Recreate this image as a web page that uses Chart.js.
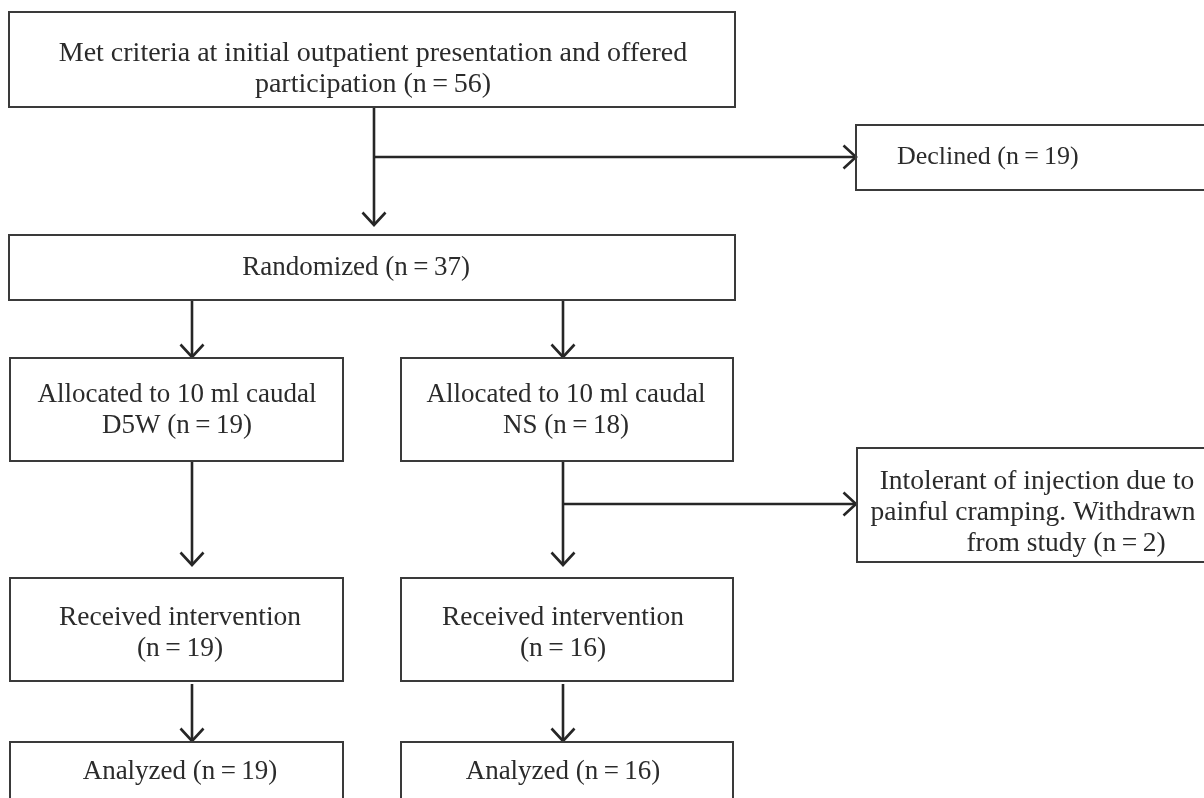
<!DOCTYPE html>
<html>
<head>
<meta charset="utf-8">
<script src="https://cdn.jsdelivr.net/npm/chart.js@4.4.1/dist/chart.umd.min.js"></script>
<style>
  html, body { margin: 0; padding: 0; background: #fff; }
  #wrap { width: 1204px; height: 798px; }
</style>
</head>
<body>
<div id="wrap"><canvas id="flow"></canvas></div>
<script>
// stages of the trial flow and how many participants were in each
const stageNames = ['screened', 'declined', 'randomized', 'allocD5W', 'allocNS', 'withdrawn', 'receivedD5W', 'receivedNS', 'analyzedD5W', 'analyzedNS'];
const stageCounts = [56, 19, 37, 19, 18, 2, 19, 16, 19, 16];
const stageText = [
    ['Met criteria at initial outpatient presentation and offered', 'participation (n\u2009=\u2009{n})'],
    ['Declined (n\u2009=\u2009{n})'],
    ['Randomized (n\u2009=\u2009{n})'],
    ['Allocated to 10 ml caudal', 'D5W (n\u2009=\u2009{n})'],
    ['Allocated to 10 ml caudal', 'NS (n\u2009=\u2009{n})'],
    ['Intolerant of injection due to', 'painful cramping. Withdrawn', 'from study (n\u2009=\u2009{n})'],
    ['Received intervention', '(n\u2009=\u2009{n})'],
    ['Received intervention', '(n\u2009=\u2009{n})'],
    ['Analyzed (n\u2009=\u2009{n})'],
    ['Analyzed (n\u2009=\u2009{n})']
];

// layout, in axis units (x 0..1204, y 0..798 top to bottom)
const boxRect = [
    [9, 12, 735, 107],
    [856, 125, 1240, 190],
    [9, 235, 735, 300],
    [10, 358, 343, 461],
    [401, 358, 733, 461],
    [857, 448, 1240, 562],
    [10, 578, 343, 681],
    [401, 578, 733, 681],
    [10, 742, 343, 840],
    [401, 742, 733, 840]
];
// line x for each box (per line if it differs), first line y, font size
const textX = [[373], [897], [356], [177], [566], [1037, 1033, 1066], [180], [563], [180], [563]];
const textY = [54, 157, 268, 395, 395, 482, 618, 618, 772, 772];
const textAlign = ['center', 'left', 'center', 'center', 'center', 'center', 'center', 'center', 'center', 'center'];
const textSize = [28, 26, 27, 27, 27, 27.5, 27.5, 27.5, 27, 27];
const lineStep = 31;

// connectors: polyline points, last point is the arrow tip
const arrowPath = [
    [[374, 107], [374, 225]],
    [[374, 157], [856, 157]],
    [[192, 300], [192, 357]],
    [[563, 300], [563, 357]],
    [[192, 461], [192, 565]],
    [[563, 461], [563, 565]],
    [[563, 504], [856, 504]],
    [[192, 684], [192, 741]],
    [[563, 684], [563, 741]]
];
const arrowDir = ['down', 'right', 'down', 'down', 'down', 'down', 'right', 'down', 'down'];

const datasets = [];

boxRect.forEach(function(r) {
    datasets.push({
        data: [{x: r[0], y: r[1]}, {x: r[2], y: r[1]}, {x: r[2], y: r[3]}, {x: r[0], y: r[3]}, {x: r[0], y: r[1]}],
        showLine: true,
        borderColor: '#3a3a3a',
        borderWidth: 2,
        borderCapStyle: 'square',
        borderJoinStyle: 'miter',
        pointRadius: 0,
        tension: 0
    });
});

arrowPath.forEach(function(p, i) {
    datasets.push({
        data: p.map(pt => ({x: pt[0], y: pt[1]})),
        showLine: true,
        borderColor: '#262626',
        borderWidth: 2.6,
        pointRadius: 0,
        tension: 0
    });
    const tip = p[p.length - 1];
    let head;
    if (arrowDir[i] === 'down') {
        head = [{x: tip[0] - 11.5, y: tip[1] - 12.5}, {x: tip[0], y: tip[1]}, {x: tip[0] + 11.5, y: tip[1] - 12.5}];
    } else {
        head = [{x: tip[0] - 12.5, y: tip[1] - 11.5}, {x: tip[0], y: tip[1]}, {x: tip[0] - 12.5, y: tip[1] + 11.5}];
    }
    datasets.push({
        data: head,
        showLine: true,
        borderColor: '#262626',
        borderWidth: 2.6,
        borderJoinStyle: 'miter',
        pointRadius: 0,
        tension: 0
    });
});

const boxLabels = {
    id: 'boxLabels',
    afterDatasetsDraw(chart) {
        const ctx = chart.ctx;
        const xs = chart.scales.x;
        const ys = chart.scales.y;
        ctx.save();
        ctx.fillStyle = '#2b2b2b';
        ctx.textBaseline = 'middle';
        stageText.forEach(function(lines, i) {
            ctx.textAlign = textAlign[i];
            ctx.font = textSize[i] + 'px "Liberation Serif", "DejaVu Serif", serif';
            lines.forEach(function(line, j) {
                const txt = line.replace('{n}', stageCounts[i]);
                const cx = textX[i][Math.min(j, textX[i].length - 1)];
                const cy = textY[i] + j * lineStep;
                ctx.fillText(txt, xs.getPixelForValue(cx), ys.getPixelForValue(cy));
            });
        });
        ctx.restore();
    }
};

new Chart(document.getElementById('flow'), {
    type: 'scatter',
    data: { datasets: datasets },
    options: {
        responsive: true,
        maintainAspectRatio: false,
        devicePixelRatio: 1,
        animation: false,
        events: [],
        layout: { padding: 0 },
        scales: {
            x: { type: 'linear', min: 0, max: 1204, display: false },
            y: { type: 'linear', min: 0, max: 798, reverse: true, display: false }
        },
        plugins: {
            legend: { display: false },
            tooltip: { enabled: false }
        }
    },
    plugins: [boxLabels]
});
</script>
</body>
</html>
